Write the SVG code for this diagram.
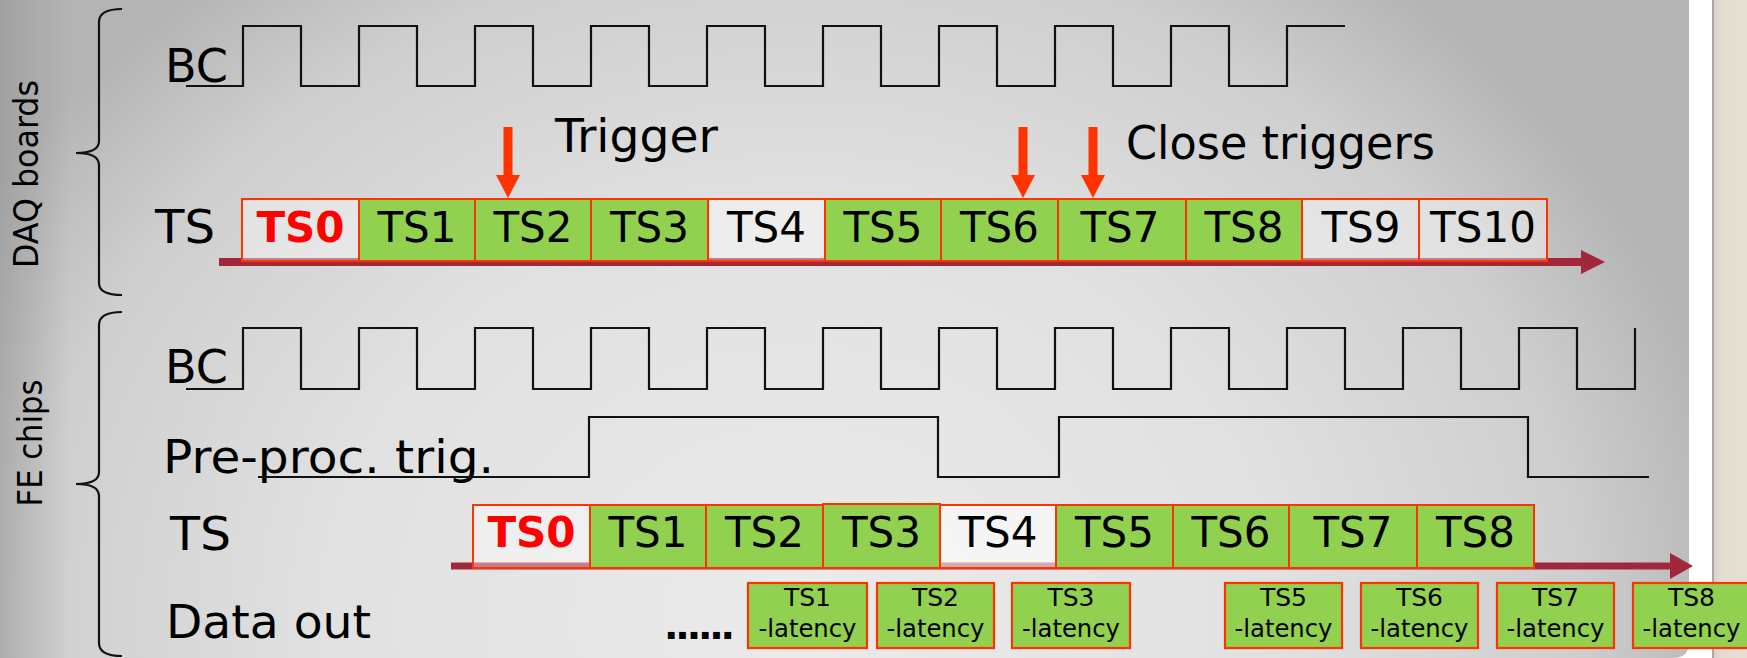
<svg xmlns="http://www.w3.org/2000/svg" width="1747" height="658" viewBox="0 0 1747 658">
<defs>
<radialGradient id="bg" gradientUnits="userSpaceOnUse" cx="800" cy="620" r="1000" gradientTransform="translate(800 620) scale(0.95 0.82) translate(-800 -620)">
<stop offset="0" stop-color="#ebebeb"/>
<stop offset="0.5" stop-color="#e1e1e1"/>
<stop offset="0.82" stop-color="#cecece"/>
<stop offset="1" stop-color="#b4b4b4"/>
</radialGradient>
<linearGradient id="leftEdge" x1="0" y1="0" x2="1" y2="0">
<stop offset="0" stop-color="#8a8a8a" stop-opacity="0.45"/>
<stop offset="1" stop-color="#8a8a8a" stop-opacity="0"/>
</linearGradient>
<linearGradient id="beige" x1="0" y1="0" x2="1" y2="0">
<stop offset="0" stop-color="#d6d0c6"/>
<stop offset="0.3" stop-color="#e3ddd2"/>
<stop offset="1" stop-color="#e4ded3"/>
</linearGradient>
<style>
.lbl{font-family:"DejaVu Sans","Liberation Sans",sans-serif;font-size:46px;fill:#000}
.side{font-family:"DejaVu Sans","Liberation Sans",sans-serif;font-size:33px;fill:#000;text-anchor:middle}
.ts{font-family:"DejaVu Sans","Liberation Sans",sans-serif;font-size:42px;fill:#000;text-anchor:middle}
.ts0{font-family:"DejaVu Sans","Liberation Sans",sans-serif;font-size:42px;font-weight:bold;fill:#ff0000;text-anchor:middle}
.dl{font-family:"DejaVu Sans","Liberation Sans",sans-serif;font-size:25px;fill:#000;text-anchor:middle}
.note{font-family:"DejaVu Sans","Liberation Sans",sans-serif;font-size:46px;fill:#000}
.g{fill:#92d050;stroke:#ff3300;stroke-width:2}
.w{fill:#ffffff;fill-opacity:0.4;stroke:#ff3300;stroke-width:2}
.dg{fill:#92d050;stroke:#ff3300;stroke-width:2.2}
.wave{fill:none;stroke:#111;stroke-width:2.2;stroke-linejoin:miter}
.brace{fill:none;stroke:#111;stroke-width:2.2}
.bar{fill:#a0283a}
.trig{fill:#ff3300}
</style>
</defs>

<g id="background">
<rect x="0" y="0" width="1747" height="658" fill="#ffffff"/>
<path d="M0,0 H1689 V642 Q1689,658 1673,658 H0 Z" fill="url(#bg)"/>
<rect x="0" y="0" width="70" height="658" fill="url(#leftEdge)"/>
<rect x="1712" y="0" width="35" height="658" fill="url(#beige)"/>
<rect x="1712" y="0" width="2" height="658" fill="#a8a8a8"/>
</g>

<g id="daq-boards">
<path class="brace" d="M122,9 Q99,9 99,22 L99,141 Q99,153 76,153 Q99,153 99,165 L99,283 Q99,295 122,295"/>
<text class="side" x="38" y="174" transform="rotate(-90 38 174)" textLength="188" lengthAdjust="spacingAndGlyphs">DAQ boards</text>
</g>

<g id="fe-chips">
<path class="brace" d="M122,312 Q99,312 99,325 L99,472 Q99,484 76,484 Q99,484 99,496 L99,643 Q99,656 122,656"/>
<text class="side" x="42" y="443" transform="rotate(-90 42 443)" textLength="127" lengthAdjust="spacingAndGlyphs">FE chips</text>
</g>

<g id="daq-bc">
<text class="lbl" x="165" y="82" textLength="63" lengthAdjust="spacingAndGlyphs">BC</text>
<path class="wave" d="M186,86 H243 V26 H301 V86 H359 V26 H417 V86 H475 V26 H533 V86 H591 V26 H649 V86 H707 V26 H765 V86 H823 V26 H881 V86 H939 V26 H997 V86 H1055 V26 H1113 V86 H1171 V26 H1229 V86 H1287 V26 H1345"/>
</g>

<g id="trigger">
<rect class="trig" x="503.5" y="127" width="9" height="49"/>
<polygon class="trig" points="496,175 520,175 508,198"/>
<text class="note" x="555" y="152" textLength="163" lengthAdjust="spacingAndGlyphs">Trigger</text>
</g>

<g id="close-triggers">
<rect class="trig" x="1018.5" y="127" width="9" height="49"/>
<polygon class="trig" points="1011,175 1035,175 1023,198"/>
<rect class="trig" x="1088.5" y="127" width="9" height="49"/>
<polygon class="trig" points="1081,175 1105,175 1093,198"/>
<text class="note" x="1126" y="159" textLength="309" lengthAdjust="spacingAndGlyphs">Close triggers</text>
</g>

<g id="daq-ts">
<text class="lbl" x="155" y="243" textLength="60" lengthAdjust="spacingAndGlyphs">TS</text>
<rect class="bar" x="219" y="258" width="1364" height="8"/>
<polygon class="bar" points="1581,250 1605,262 1581,274"/>
<rect class="w" x="242" y="199" width="117" height="62"/>
<rect class="g" x="359" y="199" width="116" height="62"/>
<rect class="g" x="475" y="199" width="116" height="62"/>
<rect class="g" x="591" y="199" width="117" height="62"/>
<rect class="w" x="708" y="199" width="117" height="62"/>
<rect class="g" x="825" y="199" width="116" height="62"/>
<rect class="g" x="941" y="199" width="117" height="62"/>
<rect class="g" x="1058" y="199" width="128" height="62"/>
<rect class="g" x="1186" y="199" width="116" height="62"/>
<rect class="w" x="1302" y="199" width="117" height="62"/>
<rect class="w" x="1419" y="199" width="128" height="62"/>
<text class="ts0" x="300.5" y="241.5">TS0</text>
<text class="ts" x="417" y="241.5">TS1</text>
<text class="ts" x="533" y="241.5">TS2</text>
<text class="ts" x="649.5" y="241.5">TS3</text>
<text class="ts" x="766.5" y="241.5">TS4</text>
<text class="ts" x="883" y="241.5">TS5</text>
<text class="ts" x="999.5" y="241.5">TS6</text>
<text class="ts" x="1120" y="241.5">TS7</text>
<text class="ts" x="1244" y="241.5">TS8</text>
<text class="ts" x="1361" y="241.5">TS9</text>
<text class="ts" x="1483" y="241.5">TS10</text>
</g>

<g id="fe-bc">
<text class="lbl" x="165" y="383" textLength="63" lengthAdjust="spacingAndGlyphs">BC</text>
<path class="wave" d="M186,389 H243 V328 H301 V389 H359 V328 H417 V389 H475 V328 H533 V389 H591 V328 H649 V389 H707 V328 H765 V389 H823 V328 H881 V389 H939 V328 H997 V389 H1055 V328 H1113 V389 H1171 V328 H1229 V389 H1287 V328 H1345 V389 H1403 V328 H1461 V389 H1519 V328 H1577 V389 H1635 V328"/>
</g>

<g id="pre-proc-trig">
<text class="lbl" x="163" y="473" textLength="331" lengthAdjust="spacingAndGlyphs">Pre-proc. trig.</text>
<path class="wave" d="M258,477 H589 V417 H938 V477 H1059 V417 H1528 V477 H1649"/>
</g>

<g id="fe-ts">
<text class="lbl" x="170" y="550" textLength="61" lengthAdjust="spacingAndGlyphs">TS</text>
<rect class="bar" x="451" y="562.5" width="1221" height="7"/>
<polygon class="bar" points="1670,553 1693,566 1670,579"/>
<rect class="w" x="473" y="505" width="117" height="63"/>
<rect class="g" x="590" y="505" width="116" height="63"/>
<rect class="g" x="706" y="505" width="117" height="63"/>
<rect class="g" x="823" y="504" width="117" height="64"/>
<rect class="w" x="940" y="505" width="116" height="63" style="fill-opacity:0.6"/>
<rect class="g" x="1056" y="505" width="117" height="63"/>
<rect class="g" x="1173" y="505" width="116" height="63"/>
<rect class="g" x="1289" y="505" width="128" height="63"/>
<rect class="g" x="1417" y="505" width="117" height="63"/>
<text class="ts0" x="531.5" y="547">TS0</text>
<text class="ts" x="648" y="547">TS1</text>
<text class="ts" x="764.5" y="547">TS2</text>
<text class="ts" x="881.5" y="547">TS3</text>
<text class="ts" x="998" y="547">TS4</text>
<text class="ts" x="1114.5" y="547">TS5</text>
<text class="ts" x="1231" y="547">TS6</text>
<text class="ts" x="1353" y="547">TS7</text>
<text class="ts" x="1475.5" y="547">TS8</text>
</g>

<g id="data-out">
<text class="lbl" x="166" y="638" textLength="205" lengthAdjust="spacingAndGlyphs">Data out</text>
<text class="lbl" x="664" y="639" style="font-size:38px;font-weight:bold" textLength="71" lengthAdjust="spacing">......</text>
<rect class="dg" x="748" y="583" width="119" height="65"/>
<rect class="dg" x="877" y="583" width="117" height="65"/>
<rect class="dg" x="1012" y="583" width="118" height="65"/>
<rect class="dg" x="1225" y="583" width="117" height="65"/>
<rect class="dg" x="1361" y="583" width="117" height="65"/>
<rect class="dg" x="1497" y="583" width="117" height="65"/>
<rect class="dg" x="1633" y="583" width="117" height="65"/>
<text class="dl" x="807.5" y="606">TS1</text>
<text class="dl" x="807.5" y="637" textLength="98" lengthAdjust="spacingAndGlyphs">-latency</text>
<text class="dl" x="935.5" y="606">TS2</text>
<text class="dl" x="935.5" y="637" textLength="98" lengthAdjust="spacingAndGlyphs">-latency</text>
<text class="dl" x="1071" y="606">TS3</text>
<text class="dl" x="1071" y="637" textLength="98" lengthAdjust="spacingAndGlyphs">-latency</text>
<text class="dl" x="1283.5" y="606">TS5</text>
<text class="dl" x="1283.5" y="637" textLength="98" lengthAdjust="spacingAndGlyphs">-latency</text>
<text class="dl" x="1419.5" y="606">TS6</text>
<text class="dl" x="1419.5" y="637" textLength="98" lengthAdjust="spacingAndGlyphs">-latency</text>
<text class="dl" x="1555.5" y="606">TS7</text>
<text class="dl" x="1555.5" y="637" textLength="98" lengthAdjust="spacingAndGlyphs">-latency</text>
<text class="dl" x="1691.5" y="606">TS8</text>
<text class="dl" x="1691.5" y="637" textLength="98" lengthAdjust="spacingAndGlyphs">-latency</text>
</g>
</svg>
